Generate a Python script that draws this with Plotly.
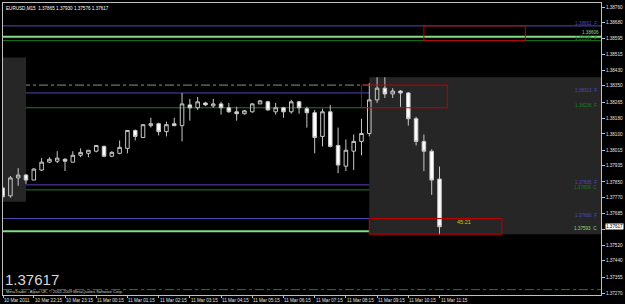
import pandas as pd
import plotly.graph_objects as go

# ---------------- data ----------------
title_text = "EURUSD,M15  1.37865 1.37930 1.37576 1.37617"
last_price = "1.37617"
timer_text = "45:21"
copyright_text = "MetaTrader - Alpari UK, \u00a9 2001-2009 MetaQuotes Software Corp."

times = pd.date_range("2011-03-10 21:15", periods=57, freq="15min")

opens = [1.37819, 1.37778, 1.37871, 1.37886, 1.37860, 1.37912, 1.37953, 1.37958, 1.37968, 1.37953,
         1.37989, 1.37999, 1.38010, 1.38035, 1.37984, 1.37999, 1.38025, 1.38118, 1.38081, 1.38143,
         1.38153, 1.38112, 1.38153, 1.38143, 1.38251, 1.38236, 1.38261, 1.38246, 1.38256, 1.38236,
         1.38215, 1.38205, 1.38215, 1.38256, 1.38267, 1.38215, 1.38236, 1.38215, 1.38267, 1.38231,
         1.38210, 1.38087, 1.38215, 1.38040, 1.37932, 1.38010, 1.38061, 1.38102, 1.38277, 1.38338,
         1.38308, 1.38323, 1.38313, 1.38179, 1.38061, 1.38010, 1.37865]
highs = [1.37830, 1.37881, 1.37922, 1.37891, 1.37922, 1.37974, 1.37979, 1.38010, 1.37974, 1.38010,
         1.38025, 1.38015, 1.38040, 1.38040, 1.38010, 1.38066, 1.38118, 1.38123, 1.38148, 1.38184,
         1.38159, 1.38164, 1.38184, 1.38313, 1.38282, 1.38292, 1.38267, 1.38282, 1.38267, 1.38261,
         1.38241, 1.38225, 1.38261, 1.38277, 1.38272, 1.38261, 1.38241, 1.38277, 1.38272, 1.38241,
         1.38225, 1.38231, 1.38251, 1.38133, 1.38071, 1.38097, 1.38179, 1.38364, 1.38395, 1.38395,
         1.38338, 1.38328, 1.38318, 1.38189, 1.38097, 1.38020, 1.37930]
lows = [1.37763, 1.37768, 1.37830, 1.37840, 1.37860, 1.37907, 1.37948, 1.37948, 1.37907, 1.37953,
        1.37979, 1.37979, 1.38004, 1.37979, 1.37979, 1.37994, 1.37999, 1.38066, 1.38081, 1.38133,
        1.38092, 1.38087, 1.38140, 1.38061, 1.38169, 1.38225, 1.38246, 1.38236, 1.38200, 1.38210,
        1.38169, 1.38200, 1.38210, 1.38256, 1.38220, 1.38200, 1.38184, 1.38205, 1.38205, 1.38133,
        1.37999, 1.38035, 1.38030, 1.37896, 1.37907, 1.37912, 1.37989, 1.38087, 1.38261, 1.38287,
        1.38287, 1.38241, 1.38143, 1.38040, 1.37907, 1.37783, 1.37576]
closes = [1.37773, 1.37871, 1.37886, 1.37860, 1.37917, 1.37953, 1.37968, 1.37974, 1.37958, 1.37989,
          1.38004, 1.38015, 1.38040, 1.37984, 1.38004, 1.38030, 1.38118, 1.38087, 1.38148, 1.38153,
          1.38112, 1.38148, 1.38143, 1.38256, 1.38236, 1.38267, 1.38251, 1.38256, 1.38236, 1.38215,
          1.38205, 1.38220, 1.38256, 1.38272, 1.38225, 1.38236, 1.38215, 1.38267, 1.38236, 1.38210,
          1.38081, 1.38215, 1.38035, 1.37938, 1.38015, 1.38061, 1.38102, 1.38277, 1.38338, 1.38308,
          1.38323, 1.38313, 1.38179, 1.38061, 1.38010, 1.37860, 1.37617]

price_ticks = [1.38760, 1.38680, 1.38595, 1.38515, 1.38430, 1.38350, 1.38265, 1.38180, 1.38100, 1.38015,
               1.37935, 1.37850, 1.37770, 1.37685, 1.37605, 1.37520, 1.37440, 1.37355, 1.37270]
hidden_tick = 1.37605  # covered by the current-price box

time_ticks = ["2011-03-10 21:15:46", "2011-03-10 22:15", "2011-03-10 23:15", "2011-03-11 00:15",
              "2011-03-11 01:15", "2011-03-11 02:15", "2011-03-11 03:15", "2011-03-11 04:15",
              "2011-03-11 05:15", "2011-03-11 06:15", "2011-03-11 07:15", "2011-03-11 08:15",
              "2011-03-11 09:15", "2011-03-11 10:15", "2011-03-11 11:15"]
time_labels = ["10 Mar 2011", "10 Mar 22:15", "10 Mar 23:15", "11 Mar 00:15", "11 Mar 01:15",
               "11 Mar 02:15", "11 Mar 03:15", "11 Mar 04:15", "11 Mar 05:15", "11 Mar 06:15",
               "11 Mar 07:15", "11 Mar 08:15", "11 Mar 09:15", "11 Mar 10:15", "11 Mar 11:15"]

# horizontal levels
blue_levels = [1.38662, 1.38313, 1.37835, 1.37660]
blue_tags = ["F", "F", "F", "F"]
lightgreen_levels = [1.38606, 1.37593]
lightgreen_tags = ["", "C"]
darkgreen_levels = [1.38585, 1.38236, 1.37809]
darkgreen_tags = ["F", "F", "C"]
dashdot_gray_level = 1.38354
dashdot_green_level = 1.37290

# zones (start, end, top, bottom)
gray_zones = [("2011-03-10 21:00", "2011-03-10 22:00", 1.38498, 1.37747),
              ("2011-03-11 09:00", "2011-03-11 17:00", 1.38395, 1.37578)]
red_zones = [("2011-03-11 10:45", "2011-03-11 14:00", 1.38662, 1.38585),
             ("2011-03-11 08:45", "2011-03-11 11:30", 1.38354, 1.38236),
             ("2011-03-11 09:00", "2011-03-11 13:15", 1.37660, 1.37578)]
timer_pos = ("2011-03-11 11:45", 1.37640)

# ---------------- figure ----------------
FONT = "Liberation Sans"
SMALL = 4.6
fig = go.Figure()
fig.add_trace(go.Candlestick(
    x=times, open=opens, high=highs, low=lows, close=closes,
    increasing=dict(line=dict(color="#c8c8c8", width=1), fillcolor="rgba(0,0,0,0)"),
    decreasing=dict(line=dict(color="#c8c8c8", width=1), fillcolor="#ffffff"),
    whiskerwidth=0, showlegend=False, hoverinfo="skip"))

shapes = []
for (x0, x1, y0, y1) in gray_zones:
    shapes.append(dict(type="rect", xref="x", yref="y", x0=x0, x1=x1, y0=y0, y1=y1,
                       fillcolor="#262626", line=dict(width=0), layer="below"))

def hline(level, color, width=1, dash="solid"):
    shapes.append(dict(type="line", xref="paper", yref="y", x0=0, x1=1, y0=level, y1=level,
                       line=dict(color=color, width=width, dash=dash), layer="below"))

annotations = []
def tag(level, color, text, x=0.996, yshift=-2):
    annotations.append(dict(xref="paper", yref="y", x=x, y=level, text=text, showarrow=False,
                            xanchor="right", yanchor="bottom", yshift=yshift,
                            font=dict(family=FONT, size=SMALL, color=color)))

for lv, tg in zip(blue_levels, blue_tags):
    hline(lv, "#5048b8")
    tag(lv, "#5048b8", f"{lv:.5f}  {tg}")
for lv, tg in zip(darkgreen_levels, darkgreen_tags):
    hline(lv, "#1f7d1f")
    tag(lv, "#1f7d1f", f"{lv:.5f}  {tg}")
for lv, tg in zip(lightgreen_levels, lightgreen_tags):
    hline(lv, "#86dc86", width=2)
    tag(lv, "#86dc86", f"{lv:.5f}  {tg}" if tg else f"{lv:.5f}",
        x=1.0 if not tg else 0.996, yshift=0 if not tg else -2)
hline(dashdot_gray_level, "#7f977f", dash="dashdot")
hline(dashdot_green_level, "#1f7d1f", dash="dashdot")

for (x0, x1, y0, y1) in red_zones:
    shapes.append(dict(type="rect", xref="x", yref="y", x0=x0, x1=x1, y0=y0, y1=y1,
                       fillcolor="rgba(0,0,0,0)", line=dict(color="#c00000", width=1), layer="above"))

# x-axis labels, left-aligned at their tick
for t, lab in zip(time_ticks, time_labels):
    annotations.append(dict(xref="x", yref="paper", x=t, y=0, text=lab, showarrow=False,
                            xanchor="left", yanchor="top", xshift=-1, yshift=-1,
                            font=dict(family=FONT, size=SMALL, color="#e0e0e0")))

annotations += [
    dict(xref="paper", yref="paper", x=0.002, y=0.997, text=title_text, showarrow=False,
         xanchor="left", yanchor="top", font=dict(family=FONT, size=SMALL, color="#ffffff")),
    dict(xref="paper", yref="paper", x=0.0, y=0.0, text=last_price, showarrow=False,
         xanchor="left", yanchor="bottom", yshift=5,
         font=dict(family="Liberation Sans", size=15, color="#d8d8d8")),
    dict(xref="paper", yref="paper", x=0.002, y=0.0, text=copyright_text, showarrow=False,
         xanchor="left", yanchor="bottom", yshift=-1,
         font=dict(family=FONT, size=4, color="#d0d0d0")),
    dict(xref="x", yref="y", x=timer_pos[0], y=timer_pos[1], text=timer_text, showarrow=False,
         xanchor="left", yanchor="middle", font=dict(family=FONT, size=5.5, color="#d8c800")),
    dict(xref="paper", yref="y", x=1, y=float(last_price), text=last_price, showarrow=False,
         xanchor="left", yanchor="middle", xshift=4, bgcolor="#ffffff", borderpad=0,
         font=dict(family=FONT, size=SMALL, color="#000000")),
]

fig.update_layout(
    width=625, height=304, autosize=False,
    margin=dict(l=2, r=22, t=2, b=9),
    paper_bgcolor="#000000", plot_bgcolor="#000000",
    shapes=shapes, annotations=annotations, boxgap=0.35,
    showlegend=False,
    xaxis=dict(type="date", range=["2011-03-10 21:15:46", "2011-03-11 16:25:30"],
               rangeslider=dict(visible=False), showgrid=False, zeroline=False,
               tickvals=time_ticks, showticklabels=False, ticks="outside", ticklen=2,
               tickcolor="#c0c0c0", showline=True, linecolor="#c0c0c0", linewidth=1, mirror=True),
    yaxis=dict(range=[1.37262, 1.38781], side="right", showgrid=False, zeroline=False,
               tickvals=price_ticks,
               ticktext=["" if v == hidden_tick else f"{v:.5f}" for v in price_ticks],
               ticks="outside", ticklen=3, tickcolor="#c0c0c0",
               tickfont=dict(family=FONT, size=SMALL, color="#e0e0e0"),
               showline=True, linecolor="#c0c0c0", linewidth=1, mirror=True),
)

fig.write_html("out.html")
